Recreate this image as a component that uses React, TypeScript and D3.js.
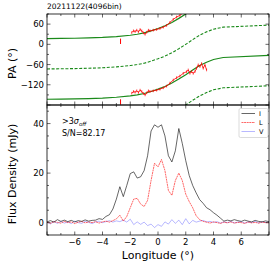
import React from 'react';
import * as d3 from 'd3';

// RVM fit (position angle psi vs longitude)
const rvmLon = [-8, -7, -6, -5, -4, -3, -2, -1.5, -1, -0.5, 0, 0.5, 1, 1.5, 2, 2.5, 3, 3.5, 4, 4.7, 8];
const rvmPsi = [17, 17.5, 18, 19, 20.5, 23, 27, 30, 34, 40, 47, 55, 65, 77, 90, 104, 117, 127, 135, 141, 147];

// measured PA points (lower copy), also drawn +180
const paLon = [-1.89, -1.77, -1.65, -1.53, -1.41, -1.29, -1.17, -1.05, -0.93, -0.81, -0.69, -0.58, -0.34, -0.1, 0.14, 0.38, 0.62, 0.86, 1.1, 1.34, 1.58, 1.82, 2.06, 2.18, 2.3, 2.42, 2.54, 2.66, 2.78, 2.9, 3.02, 3.14, 3.26, 3.38, 3.5];
const paVal = [-145, -140, -142, -138, -143, -136, -140, -146, -150, -144, -138, -140, -138, -136, -133, -129, -124, -115, -106, -99, -94, -86, -81, -76, -86, -81, -86, -81, -71, -61, -66, -57, -71, -61, -76];
const outLon = [-2.7];
const outVal = [-171];

// profile
const profLon = d3.range(-8, 8.001, 0.25);
const stokesI = [0.3, 0.8, 0.2, 1.2, 0.5, 1.0, 0.4, 0.9, 0.3, 0.8, 0.5, 1.1, 0.6, 0.9, 1.0, 1.6, 1.3, 2.5, 3.2, 5.5, 9.5, 14.5, 10.5, 15, 19.8, 20.5, 18, 18.5, 21, 27, 37, 39.5, 38.5, 39.5, 35, 27, 24.5, 29, 38, 32, 25, 19, 15, 12, 9.3, 7.8, 6, 5.2, 4, 3, 1.8, 0.6, 1.0, 0.7, 1.2, 0.8, 0.5, 1.0, 0.6, 0.3, 0.9, 0.5, 0.3, 0.7, 0.4];
const stokesL = [0.2, -0.3, 0.4, 0.1, -0.2, 0.5, 0.0, 0.3, -0.4, 0.2, 0.5, -0.1, 0.3, 0.0, 0.4, -0.2, 0.3, 0.6, 0.2, 0.8, 1.5, 3.0, 0.6, 2.5, 6, 9.5, 9.8, 7.5, 6.5, 9, 17, 24, 22.5, 25.5, 21, 13, 11, 17, 20, 17, 11.5, 8.5, 6, 2.8, 1.2, 0.5, 0.2, -0.2, 0.3, 0.0, -0.3, 0.2, -0.1, 0.3, -0.2, 0.1, 0.0, -0.3, 0.2, -0.1, 0.1, -0.2, 0.2, 0.0, -0.1];
const stokesV = [0.2, -0.5, 0.4, -0.3, 0.5, -0.2, 0.3, -0.4, 0.6, 0.0, -0.3, 0.5, 0.1, -0.4, 0.3, 0.6, 0.0, 0.4, 0.8, 0.2, 0.7, 0.4, 1.0, 0.2, 1.4, -0.8, 0.3, -0.7, 0.2, -1.2, -0.6, -2.0, -0.8, -1.5, 0.3, -0.6, 1.2, -0.3, 1.0, -0.8, 1.6, -0.5, 0.9, 0.2, 0.6, 0.9, 0.3, 0.5, 0.1, 0.4, -0.2, 0.3, 0.0, 0.5, -0.1, 0.2, 0.4, -0.2, 0.3, 0.0, 0.5, -0.1, 0.3, 0.1, 0.2];

const xTicks = [-6, -4, -2, 0, 2, 4, 6];
const paTicks = [60, 0, -60, -120];
const fluxTicks = [0, 20, 40];

const L = 47, R = 269, T1 = 14, B1 = 105, T2 = 105, B2 = 235;
const font = 'DejaVu Sans, sans-serif';

export default function App() {
  const x = d3.scaleLinear().domain([-8, 8]).range([L, R]);
  const yPA = d3.scaleLinear().domain([-180, 90]).range([B1, T1]);
  const yF = d3.scaleLinear().domain([-5, 47.5]).range([B2, T2]);

  const rvm = (off: number) =>
    d3.line<number>().x((_, i) => x(rvmLon[i])).y((d) => yPA(d + off))(rvmPsi) || '';
  const pa = (off: number) =>
    d3.line<number>().x((_, i) => x(paLon[i])).y((d) => yPA(d + off))(paVal) || '';
  const prof = (arr: number[]) =>
    d3.line<number>().x((_, i) => x(profLon[i])).y((d) => yF(d))(arr) || '';

  const minorX = d3.range(-8, 8.01, 1);
  const minorPA = d3.range(-180, 91, 30);
  const minorF = d3.range(-5, 47.5, 5);

  const green = '#1a8a1a';

  return (
    <svg width={274} height={266} style={{ position: 'absolute', left: 0, top: 0, background: '#fff' }} fontFamily={font}>
      <defs>
        <clipPath id="c1"><rect x={L} y={T1} width={R - L} height={B1 - T1} /></clipPath>
        <clipPath id="c2"><rect x={L} y={T2} width={R - L} height={B2 - T2} /></clipPath>
      </defs>
      <text x={L} y={9} fontSize={7.5}>20211122(4096bin)</text>

      {/* top panel */}
      <g clipPath="url(#c1)">
        {[0, -180].map((o) => (
          <path key={'s' + o} d={rvm(o)} fill="none" stroke={green} strokeWidth={1.2} />
        ))}
        {[-90, -270, 90].map((o) => (
          <path key={'d' + o} d={rvm(o)} fill="none" stroke={green} strokeWidth={1.1} strokeDasharray="3,1.6" />
        ))}
        {[0, 180].map((o) => (
          <g key={'p' + o}>
            <path d={pa(o)} fill="none" stroke="#ff0000" strokeWidth={0.8} />
            {paVal.map((v, i) => (
              <line key={i} x1={x(paLon[i])} x2={x(paLon[i])} y1={yPA(v + o - 4)} y2={yPA(v + o + 4)} stroke="#ff0000" strokeWidth={0.7} />
            ))}
            {outVal.map((v, i) => (
              <line key={'o' + i} x1={x(outLon[i])} x2={x(outLon[i])} y1={yPA(v + o - 8)} y2={yPA(v + o + 8)} stroke="#ff0000" strokeWidth={1} />
            ))}
          </g>
        ))}
      </g>

      {/* bottom panel */}
      <g clipPath="url(#c2)">
        <path d={prof(stokesV)} fill="none" stroke="#5555ff" strokeOpacity={0.7} strokeWidth={0.6} />
        <path d={prof(stokesL)} fill="none" stroke="#ff0000" strokeWidth={0.6} strokeDasharray="2,0.6" />
        <path d={prof(stokesI)} fill="none" stroke="#000" strokeWidth={0.6} />
      </g>

      {/* ticks */}
      <g stroke="#000" strokeWidth={0.6}>
        {minorX.map((t) => (
          <g key={'x' + t}>
            {[T1, T2].map((yt) => <line key={'a' + yt} x1={x(t)} x2={x(t)} y1={yt} y2={yt + (t % 2 === 0 ? 3.5 : 2)} />)}
            {[B1, B2].map((yb) => <line key={'b' + yb} x1={x(t)} x2={x(t)} y1={yb} y2={yb - (t % 2 === 0 ? 3.5 : 2)} />)}
          </g>
        ))}
        {minorPA.map((t) => (
          <g key={'pa' + t}>
            <line x1={L} x2={L + (t % 60 === 0 ? 3.5 : 2)} y1={yPA(t)} y2={yPA(t)} />
            <line x1={R} x2={R - (t % 60 === 0 ? 3.5 : 2)} y1={yPA(t)} y2={yPA(t)} />
          </g>
        ))}
        {minorF.map((t) => (
          <g key={'f' + t}>
            <line x1={L} x2={L + (t % 20 === 0 ? 3.5 : 2)} y1={yF(t)} y2={yF(t)} />
            <line x1={R} x2={R - (t % 20 === 0 ? 3.5 : 2)} y1={yF(t)} y2={yF(t)} />
          </g>
        ))}
      </g>

      <rect x={L} y={T1} width={R - L} height={B1 - T1} fill="none" stroke="#000" strokeWidth={0.8} />
      <rect x={L} y={T2} width={R - L} height={B2 - T2} fill="none" stroke="#000" strokeWidth={0.8} />

      <g fontSize={8.5} textAnchor="end">
        {paTicks.map((t) => (
          <text key={t} x={L - 3} y={yPA(t) + 3}>{t < 0 ? '\u2212' + Math.abs(t) : t}</text>
        ))}
        {fluxTicks.map((t) => (
          <text key={t} x={L - 3} y={yF(t) + 3}>{t}</text>
        ))}
      </g>
      <g fontSize={8.5} textAnchor="middle">
        {xTicks.map((t) => (
          <text key={t} x={x(t)} y={245}>{t < 0 ? '\u2212' + Math.abs(t) : t}</text>
        ))}
      </g>

      <text fontSize={11} textAnchor="middle" transform={`translate(16,${(T1 + B1) / 2 + 4}) rotate(-90)`}>PA (°)</text>
      <text fontSize={11} textAnchor="middle" transform={`translate(16,${(T2 + B2) / 2 + 4}) rotate(-90)`}>Flux Density (mJy)</text>
      <text fontSize={11} x={(L + R) / 2} y={259} textAnchor="middle">Longitude (°)</text>

      <text x={62} y={124} fontSize={8}>
        {'>3'}<tspan fontStyle="italic">σ</tspan><tspan fontStyle="italic" fontSize={5.5} dy={1.5}>off</tspan>
      </text>
      <text x={62} y={136} fontSize={8}>S/N=82.17</text>

      {/* legend */}
      <rect x={239} y={108.5} width={29} height={29} fill="#fff" stroke="#ccc" strokeWidth={0.7} rx={1.5} />
      <g fontSize={6.5}>
        <line x1={241.5} x2={255} y1={113.5} y2={113.5} stroke="#000" strokeWidth={0.6} />
        <text x={259} y={116}>I</text>
        <line x1={241.5} x2={255} y1={122.5} y2={122.5} stroke="#ff0000" strokeWidth={0.6} strokeDasharray="2,0.6" />
        <text x={259} y={125}>L</text>
        <line x1={241.5} x2={255} y1={131.5} y2={131.5} stroke="#5555ff" strokeOpacity={0.7} strokeWidth={0.6} />
        <text x={259} y={134}>V</text>
      </g>
    </svg>
  );
}
